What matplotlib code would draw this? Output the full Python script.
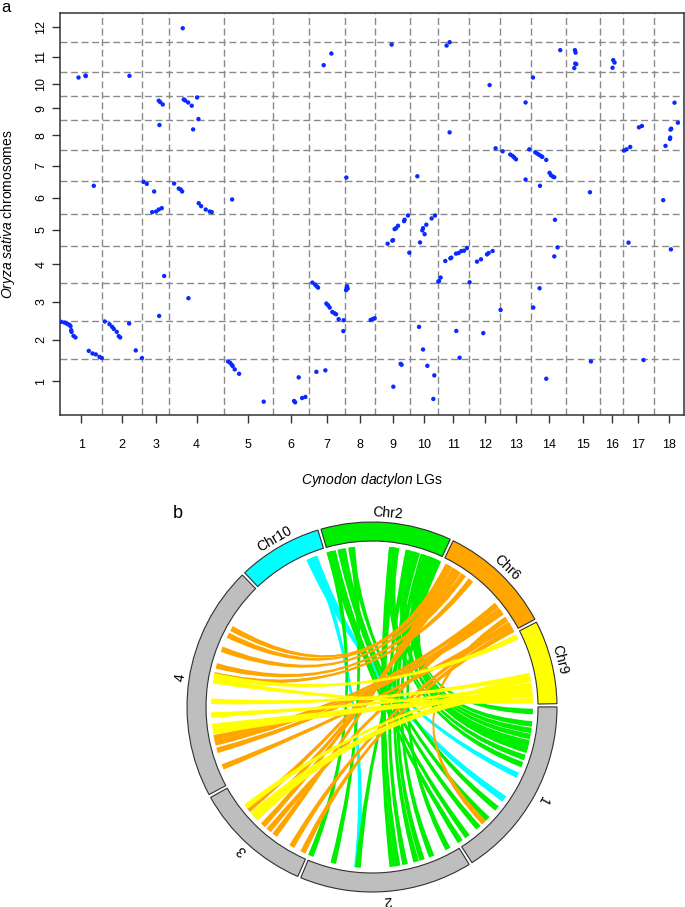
import numpy as np
import matplotlib
matplotlib.use('Agg')
import matplotlib.pyplot as plt
from matplotlib.path import Path
from matplotlib.patches import PathPatch, Wedge

plt.rcParams['font.family'] = ['Liberation Sans', 'DejaVu Sans']
plt.rcParams['mathtext.fontset'] = 'custom'
plt.rcParams['mathtext.it'] = 'Liberation Sans:italic'
plt.rcParams['mathtext.rm'] = 'Liberation Sans'

# ---------------- data ----------------
rice_chr = [str(i) for i in range(1, 13)]
rice_size = [43.27, 35.94, 36.41, 35.50, 29.96, 31.25, 29.70, 28.44, 23.01, 23.21, 29.02, 27.53]  # Mb
lg_names = [str(i) for i in range(1, 19)]
lg_size = [42.2, 40.0, 27.3, 54.3, 49.0, 36.0, 36.7, 30.0, 34.7, 27.6, 31.7,
           31.0, 31.0, 34.7, 34.0, 23.3, 30.3, 30.0]

# cumulative positions of syntenic markers (x: Cynodon LG map, y: rice genome Mb)
dot_x = [18.5, 25.5, 25.8, 69.5, 33.8, 98.8, 100.2, 102.8, 99.5, 122.8, 123.8, 125.2,
         128.2, 131.8, 137.2, 138.5, 133.2, 83.5, 86.8, 94.2, 92.2, 96.2, 98.8, 101.8,
         114.2, 118.8, 120.8, 122.2, 138.8, 141.2, 145.8, 149.8, 151.8, 172.2, 263.8,
         271.5, 286.5, 331.8, 386.8, 389.8, 500.5, 515.2, 515.8, 515.5, 516.5, 514.5,
         553.5, 554.8, 552.8, 429.8, 473.2, 465.8, 614.8, 389.8, 618.2, 582.2, 579.2,
         611.5, 610.8, 610.5, 610.2, 605.8, 564.2, 566.8, 570.5, 435.8, 442.8, 450.5,
         452.8, 454.5, 456.2, 469.5, 475.5, 477.5, 479.5, 481.5, 482.5, 486.5, 489.8,
         491.2, 493.2, 494.5, 465.8, 480.2, 530.2, 603.5, 357.5, 495.2, 348.2, 344.8,
         344.2, 338.2, 336.2, 334.8, 375.2, 371.8, 366.5, 363.2, 362.5, 364.8, 327.8,
         332.5, 333.2, 349.5, 360.2, 385.5, 390.5, 391.5, 396.2, 398.8, 401.5, 404.2,
         407.2, 417.2, 421.2, 427.2, 428.8, 432.8, 378.5, 379.2, 380.8, 409.8, 286.2,
         286.8, 287.2, 287.8, 278.8, 283.8, 283.5, 310.8, 312.8, 314.8, 440.8, 473.5,
         479.8, 494.5, 497.8, 568.8, 611.2, 359.2, 396.5, 423.5, 363.2, 399.8, 340.8,
         341.8, 367.5, 374.5, 333.5, 373.5, 486.5, 531.2, 583.8, 1.2, 4.5, 6.2, 7.8,
         9.5, 10.5, 11.2, 11.5, 13.5, 15.5, 28.8, 32.5, 35.8, 39.5, 41.8, 44.8, 49.5,
         52.2, 53.8, 56.8, 58.8, 60.2, 69.2, 75.8, 82.0, 99.2, 104.2, 128.5, 168.2,
         170.2, 171.8, 172.8, 174.8, 179.2, 203.8, 234.2, 235.2, 238.8, 242.2, 245.5,
         252.5, 255.2, 256.8, 258.2, 256.5, 265.5, 266.5, 268.2, 269.8, 272.5, 274.5,
         276.2]
dot_y = [311.4, 313.3, 312.8, 313.0, 208.1, 289.3, 288.0, 285.7, 266.1, 358.4, 290.5, 289.5,
         287.6, 284.5, 292.4, 271.8, 261.9, 211.9, 210.0, 202.7, 183.0, 183.6, 185.5, 186.8,
         210.3, 205.5, 204.6, 202.7, 191.5, 188.7, 185.5, 183.6, 183.0, 195.1, 323.2,
         334.3, 216.0, 342.8, 341.9, 345.1, 337.5, 337.5, 335.2, 324.7, 324.2, 320.4,
         328.0, 325.7, 320.7, 304.2, 311.4, 287.6, 287.4, 259.1, 268.3, 265.2, 263.9,
         262.6, 261.7, 254.1, 252.8, 246.2, 241.7, 242.9, 245.2, 243.9, 241.0, 237.9,
         236.6, 235.0, 233.4, 242.9, 240.1, 238.8, 237.6, 236.3, 235.7, 232.8, 220.5,
         218.2, 216.9, 216.3, 214.1, 208.1, 202.0, 194.4, 217.2, 175.7, 179.8, 175.7,
         174.4, 170.0, 167.7, 166.8, 179.8, 177.0, 171.0, 167.7, 165.6, 162.0, 152.9,
         155.8, 156.3, 144.3, 154.1, 136.4, 138.9, 139.6, 143.4, 144.0, 145.9, 146.2,
         148.7, 135.8, 138.0, 142.7, 144.0, 145.9, 116.7, 117.3, 120.6, 116.1, 108.5,
         110.7, 112.3, 110.1, 80.9, 79.9, 69.5, 80.2, 80.9, 81.8, 89.7, 92.0,
         110.4, 140.8, 149.4, 153.9, 147.5, 73.6, 69.7, 67.6, 52.0, 44.1, 38.3,
         37.4, 36.4, 27.3, 16.5, 4.8, 24.1, 40.6, 41.9, 78.3, 77.7, 77.1, 76.1,
         75.5, 74.2, 70.4, 68.8, 65.0, 63.5, 50.7, 48.2, 47.3, 45.0, 43.8, 78.7, 76.1,
         73.6, 71.6, 68.8, 64.7, 63.5, 76.8, 51.1, 43.8, 84.0, 122.1, 100.9, 40.6,
         39.3, 37.4, 36.2, 33.0, 28.8, 2.2, 2.9, 1.6, 25.4, 5.7, 6.7,
         115.8, 113.9, 112.3, 111.0, 30.7, 32.1, 95.8, 94.2, 92.0, 87.8, 86.6,
         85.6]

# circos panel: rice chromosomes and Cynodon LGs shown
circ_rice = ['10', '2', '6', '9']
circ_rice_color = ['#00FFFF', '#00EE00', '#FFA500', '#FFFF00']
circ_lg = ['1', '2', '3', '4']
LG_SCALE = 1.19
GAP = 1.0
START = 316.5

# ---------------- figure ----------------
W, H = 685, 907
fig = plt.figure(figsize=(W / 100, H / 100), dpi=100)

def fx(px):
    return px / W

def fy(py):
    return 1 - py / H

cum_r = np.concatenate([[0], np.cumsum(rice_size)])
cum_l = np.concatenate([[0], np.cumsum(lg_size)])

# ---- panel a ----
ax = fig.add_axes([fx(60), fy(415), (683.5 - 60) / W, (415 - 12.7) / H])
ax.set_xlim(0, cum_l[-1])
ax.set_ylim(-10.5, cum_r[-1])
dash = (0, (5, 2.6))
for b in cum_r[1:-1]:
    ax.axhline(b, color='#8a8a8a', lw=1.0, ls=dash, zorder=1)
for b in cum_l[1:-1]:
    ax.axvline(b, color='#8a8a8a', lw=1.0, ls=dash, zorder=1)
ax.scatter(dot_x, dot_y, s=10, c='#0a2aff', edgecolors='none', zorder=3)

ax.set_xticks((cum_l[:-1] + cum_l[1:]) / 2)
ax.set_xticklabels(lg_names, fontsize=9)
ax.set_yticks((cum_r[:-1] + cum_r[1:]) / 2)
ax.set_yticklabels(rice_chr, fontsize=9, rotation=90, va='center')
ax.tick_params(axis='x', length=6, width=1, pad=11, color='#333333')
ax.tick_params(axis='y', length=6, width=1, pad=3, color='#333333')
for s in ax.spines.values():
    s.set_color('#333333')
    s.set_linewidth(1.1)

fig.text(fx(8), fy(214), r'$\it{Oryza\ sativa}$ chromosomes', rotation=90,
         ha='center', va='center', fontsize=10)
fig.text(fx(372), fy(480), r'$\it{Cynodon\ dactylon}$ LGs', ha='center',
         va='center', fontsize=10)
fig.text(fx(1), fy(0.5), 'a', fontsize=12, ha='left', va='top')
fig.text(fx(173), fy(518), 'b', fontsize=13, ha='left', va='baseline')

# ---- panel b (circos) ----
axb = fig.add_axes([0, 0, 1, 417 / H])
axb.set_xlim(-372, W - 372)
axb.set_ylim(-(H - 707), 707 - (H - 417))
axb.axis('off')

R_OUT, R_IN, R_LINK = 185, 166, 161

sizes = [rice_size[int(c) - 1] for c in circ_rice] + \
        [lg_size[int(l) - 1] * LG_SCALE for l in circ_lg]
n_sec = len(sizes)
deg_per = (360 - n_sec * GAP) / sum(sizes)
starts = []
a = START
for s in sizes:
    starts.append(a)
    a += s * deg_per + GAP
colors = circ_rice_color + ['#BEBEBE'] * len(circ_lg)
labels = ['Chr' + c for c in circ_rice] + circ_lg

for st, s, col, lab in zip(starts, sizes, colors, labels):
    en = st + s * deg_per
    axb.add_patch(Wedge((0, 0), R_OUT, 90 - en, 90 - st, width=R_OUT - R_IN,
                        facecolor=col, edgecolor='#303030', lw=0.8, zorder=5))
    mid = (st + en) / 2
    t = np.deg2rad(mid)
    axb.text(194 * np.sin(t), 194 * np.cos(t), lab, rotation=-mid,
             rotation_mode='anchor', ha='center', va='center', fontsize=10, zorder=6)


def pt(theta, r=R_LINK):
    t = np.deg2rad(theta)
    return (r * np.sin(t), r * np.cos(t))


def ribbon(ac, bc, color, z, w=2.0):
    a1, a2 = ac - w / 2, ac + w / 2
    b1, b2 = bc - w / 2, bc + w / 2
    verts, codes = [], []
    for i, th in enumerate(np.linspace(a1, a2, 6)):
        verts.append(pt(th))
        codes.append(Path.MOVETO if i == 0 else Path.LINETO)
    verts += [(0, 0), pt(b1)]
    codes += [Path.CURVE3, Path.CURVE3]
    for th in np.linspace(b1, b2, 6)[1:]:
        verts.append(pt(th))
        codes.append(Path.LINETO)
    verts += [(0, 0), pt(a1)]
    codes += [Path.CURVE3, Path.CURVE3]
    verts.append(pt(a1))
    codes.append(Path.CLOSEPOLY)
    axb.add_patch(PathPatch(Path(verts, codes), facecolor=color, edgecolor='none', zorder=z))


xs = np.array(dot_x)
ys = np.array(dot_y)
ci = np.searchsorted(cum_r, ys, side='right') - 1
li = np.searchsorted(cum_l, xs, side='right') - 1
for k, c in enumerate(circ_rice):
    cidx = int(c) - 1
    for j, l in enumerate(circ_lg):
        lidx = int(l) - 1
        sel = (ci == cidx) & (li == lidx)
        for x, y in zip(xs[sel], ys[sel]):
            ac = starts[k] + (y - cum_r[cidx]) * deg_per
            bc = starts[len(circ_rice) + j] + (x - cum_l[lidx]) * LG_SCALE * deg_per
            ribbon(ac, bc, circ_rice_color[k], 1 + k)

fig.savefig('out.png', dpi=100)
